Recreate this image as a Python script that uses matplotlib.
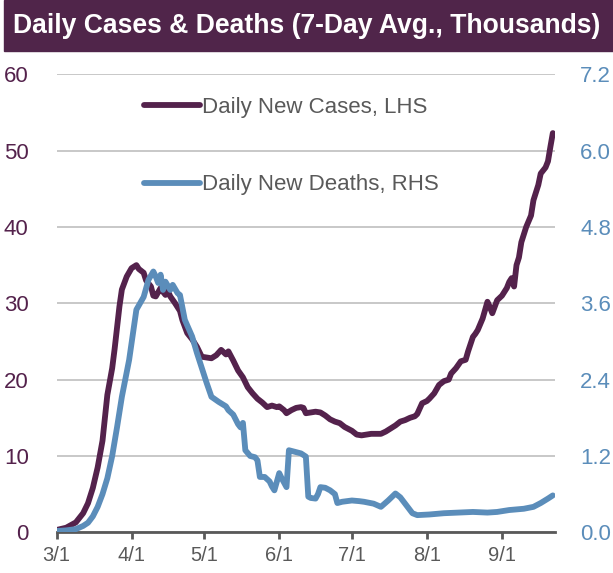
import matplotlib.pyplot as plt
from matplotlib.patches import Rectangle
import pandas as pd

plt.rcParams['font.family'] = ['Liberation Sans', 'DejaVu Sans']

# 7-day avg of daily new cases (thousands), LHS
case_dates = ["03-01", "03-05", "03-09", "03-12", "03-14", "03-16", "03-18", "03-20",
              "03-22", "03-24", "03-25", "03-27", "03-28", "03-30", "04-01", "04-03",
              "04-04", "04-06", "04-07", "04-09", "04-10", "04-11", "04-13", "04-14",
              "04-15", "04-16", "04-17", "04-19", "04-21", "04-22", "04-24", "04-26",
              "04-28", "04-30", "05-02", "05-04", "05-06", "05-08", "05-10", "05-11",
              "05-13", "05-15", "05-17", "05-19", "05-21", "05-23", "05-25", "05-27",
              "05-29", "05-31", "06-01", "06-03", "06-04", "06-06", "06-08", "06-10",
              "06-11", "06-12", "06-14", "06-16", "06-18", "06-20", "06-22", "06-24",
              "06-26", "06-28", "07-01", "07-03", "07-05", "07-07", "07-09", "07-11",
              "07-13", "07-15", "07-17", "07-19", "07-21", "07-23", "07-25", "07-27",
              "07-28", "07-30", "08-01", "08-02", "08-04", "08-06", "08-08", "08-10",
              "08-11", "08-13", "08-15", "08-17", "08-18", "08-20", "08-21", "08-22",
              "08-24", "08-26", "08-27", "08-28", "08-30", "09-01", "09-03", "09-04",
              "09-05", "09-06", "09-07", "09-08", "09-09", "09-11", "09-13", "09-14",
              "09-16", "09-17", "09-19", "09-20", "09-21", "09-22"]
cases = [0.3, 0.6, 1.3, 2.5, 3.8, 5.8, 8.5, 12.0,
         18.0, 21.5, 24.0, 29.6, 31.8, 33.5, 34.6, 35.0,
         34.5, 34.0, 33.0, 32.2, 31.0, 30.9, 32.0, 31.5,
         31.1, 31.6, 30.9, 30.0, 29.0, 27.8, 26.1, 25.3,
         24.3, 23.0, 22.9, 22.8, 23.2, 23.9, 23.3, 23.7,
         22.5, 21.2, 20.3, 19.0, 18.2, 17.5, 17.0, 16.4,
         16.6, 16.4, 16.5, 16.0, 15.6, 16.0, 16.3, 16.4,
         16.3, 15.6, 15.7, 15.8, 15.7, 15.3, 14.8, 14.5,
         14.3, 13.8, 13.3, 12.8, 12.7, 12.8, 12.9, 12.9,
         12.9, 13.2, 13.6, 14.0, 14.5, 14.7, 15.0, 15.2,
         15.5, 16.9, 17.2, 17.5, 18.2, 19.3, 19.8, 20.0,
         20.8, 21.5, 22.4, 22.6, 23.7, 25.6, 26.0, 26.5,
         28.0, 30.2, 29.5, 28.7, 30.4, 31.0, 32.0, 32.8,
         33.3, 32.2, 35.0, 36.0, 38.0, 40.0, 41.5, 43.5,
         45.5, 47.0, 47.8, 48.6, 50.5, 52.3]

# 7-day avg of daily new deaths (thousands), RHS
death_dates = ["03-01", "03-05", "03-09", "03-12", "03-14", "03-16", "03-18", "03-20",
               "03-22", "03-24", "03-26", "03-28", "03-31", "04-03", "04-06", "04-08",
               "04-10", "04-11", "04-12", "04-13", "04-14", "04-15", "04-17", "04-18",
               "04-20", "04-21", "04-23", "04-26", "04-28", "05-02", "05-04", "05-07",
               "05-10", "05-11", "05-13", "05-15", "05-16", "05-17", "05-18", "05-20",
               "05-22", "05-23", "05-24", "05-26", "05-28", "05-29", "05-30", "06-01",
               "06-02", "06-04", "06-05", "06-07", "06-10", "06-12", "06-13", "06-14",
               "06-16", "06-17", "06-18", "06-20", "06-22", "06-24", "06-25", "06-27",
               "07-01", "07-04", "07-06", "07-10", "07-13", "07-16", "07-19", "07-21",
               "07-24", "07-26", "07-28", "08-02", "08-08", "08-14", "08-20", "08-26",
               "08-30", "09-04", "09-10", "09-14", "09-17", "09-20", "09-22"]
deaths = [0.02, 0.03, 0.05, 0.10, 0.15, 0.25, 0.40, 0.60,
          0.85, 1.20, 1.65, 2.13, 2.71, 3.50, 3.70, 3.97,
          4.10, 4.02, 3.92, 4.05, 3.81, 3.94, 3.81, 3.89,
          3.76, 3.73, 3.34, 3.08, 2.82, 2.35, 2.13, 2.05,
          1.98, 1.92, 1.85, 1.70, 1.65, 1.72, 1.29, 1.20,
          1.18, 1.13, 0.87, 0.87, 0.80, 0.72, 0.66, 0.93,
          0.85, 0.71, 1.29, 1.27, 1.24, 1.19, 0.56, 0.54,
          0.53, 0.60, 0.71, 0.70, 0.66, 0.60, 0.46, 0.48,
          0.50, 0.49, 0.48, 0.45, 0.40, 0.50, 0.61, 0.55,
          0.40, 0.30, 0.27, 0.28, 0.30, 0.31, 0.32, 0.31,
          0.32, 0.35, 0.37, 0.40, 0.46, 0.53, 0.58]

month_ticks = ["03-01", "04-01", "05-01", "06-01", "07-01", "08-01", "09-01"]
month_labels = ["3/1", "4/1", "5/1", "6/1", "7/1", "8/1", "9/1"]

purple = "#54224C"
blue = "#5B8DBA"
grey = "#595959"

cd = pd.to_datetime(["2020-" + d for d in case_dates])
dd = pd.to_datetime(["2020-" + d for d in death_dates])
ticks = pd.to_datetime(["2020-" + d for d in month_ticks])

fig = plt.figure(figsize=(6.13, 5.73), dpi=100)
fig.patches.append(Rectangle((4 / 613, 1 - 51 / 573), 1, 51 / 573,
                             transform=fig.transFigure, color="#50254A", zorder=0))
fig.text(13 / 613, 1 - 26 / 573, "Daily Cases & Deaths (7-Day Avg., Thousands)",
         color="white", fontsize=19.1, fontweight="bold", va="center", ha="left")

ax = fig.add_axes([56.5 / 613, 1 - 532.3 / 573, (555 - 56.5) / 613, (532.3 - 74.3) / 573])
ax2 = ax.twinx()

ax.plot(cd, cases, color=purple, lw=4.2, solid_capstyle="round", label="Daily New Cases, LHS")
ax2.plot(dd, deaths, color=blue, lw=4.2, solid_capstyle="round", label="Daily New Deaths, RHS")

ax.set_ylim(0, 60)
ax2.set_ylim(0, 7.2)
ax.set_yticks(range(0, 61, 10))
ax2.set_yticks([0, 1.2, 2.4, 3.6, 4.8, 6.0, 7.2])
ax2.set_yticklabels(["0.0", "1.2", "2.4", "3.6", "4.8", "6.0", "7.2"])
ax.set_xlim(pd.Timestamp("2020-03-01"), pd.Timestamp("2020-03-01") + pd.Timedelta(days=205.9))
ax.set_xticks(ticks)
ax.set_xticklabels(month_labels)

for a in (ax, ax2):
    for s in ("top", "left", "right"):
        a.spines[s].set_visible(False)
ax.spines["bottom"].set_color(grey)
ax.spines["bottom"].set_linewidth(2)
ax2.spines["bottom"].set_visible(False)

ax.yaxis.grid(True, color="#BFBFBF", lw=1.2)
ax.set_axisbelow(True)
ax.tick_params(axis="y", length=0, pad=20, labelsize=16, labelcolor=purple)
ax2.tick_params(axis="y", length=0, pad=18, labelsize=16, labelcolor=blue)
ax.tick_params(axis="x", length=5, width=2, color=grey, pad=5, labelsize=14.5, labelcolor=grey)

h1, l1 = ax.get_legend_handles_labels()
h2, l2 = ax2.get_legend_handles_labels()
ax2.legend(h1 + h2, l1 + l2, loc="upper left", bbox_to_anchor=(0.136, 0.995),
           frameon=False, fontsize=16, handlelength=2.5, handletextpad=0.1,
           labelspacing=2.56, labelcolor=grey)

fig.savefig("out.png", dpi=100)
